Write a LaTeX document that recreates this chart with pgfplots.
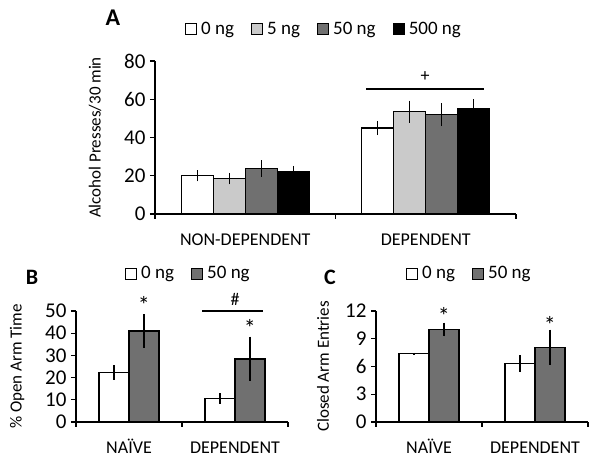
\documentclass[border=0pt]{standalone}
\usepackage{fontspec}
\setmainfont{Carlito}
\usepackage{pgfplots}
\pgfplotsset{compat=1.18}
\definecolor{lg}{RGB}{202,202,202}
\definecolor{dg}{RGB}{112,112,112}
\pgfplotsset{
  panel/.style={
    scale only axis, axis lines=left, axis line style={-, line width=1.5pt},
    ybar=0pt, ymin=0, xmin=0.5, xmax=2.5,
    xtick={0.5,1.5,2.5}, xticklabels={},
    tick align=outside, major tick length=5pt,
    tick style={line width=1.2pt, black},
    /pgf/number format/assume math mode=true,
    yticklabel style={font=\fontsize{21}{21}\selectfont, xshift=-1pt},
    extra x ticks={1,2},
    extra x tick style={major tick length=0pt,
      xticklabel style={font=\fontsize{18}{18}\selectfont, text height=13pt, text depth=3pt, yshift=-15pt}},
    ylabel style={font=\fontsize{17}{17}\selectfont, anchor=center},
    clip=false,
    legend style={draw=none, fill=none, font=\fontsize{19}{19}\selectfont,
      anchor=center, /tikz/every even column/.append style={column sep=15pt},
      legend cell align=left, inner sep=0pt},
    legend columns=-1,
    legend image code/.code={\draw[#1, line width=1pt] (0pt,-6pt) rectangle (11pt,5pt); \path (13pt,0pt);},
  },
  barst/.style={draw=black, line width=1.3pt, fill=#1,
    error bars/.cd, y dir=both, y explicit, error mark=none,
    error bar style={line width=1.3pt, black}},
}
\begin{document}
\begin{tikzpicture}[x=1pt,y=1pt]
\useasboundingbox (0,0) rectangle (600,465);
% Panel A
\begin{axis}[panel, at={(155pt,251pt)}, anchor=south west,
  width=361pt, height=153pt, bar width=32pt,
  ymax=80, ytick={0,20,40,60,80},
  extra x tick labels={NON-DEPENDENT,DEPENDENT},
  ylabel={Alcohol Presses/30 min},
  ylabel style={at={(axis description cs:-0.166,0.5)}},
  legend style={at={(axis description cs:0.468,1.21)}}]
\addplot[barst=white] coordinates {(1,20) +- (0,2.9) (2,45) +- (0,3.7)};
\addplot[barst=lg] coordinates {(1,18.5) +- (0,3) (2,53.5) +- (0,5.8)};
\addplot[barst=dg] coordinates {(1,23.8) +- (0,4.3) (2,52) +- (0,6)};
\addplot[barst=black] coordinates {(1,22.2) +- (0,3) (2,55) +- (0,4.9)};
\legend{0 ng,5 ng,50 ng,500 ng}
\draw[line width=1.2pt] (axis cs:1.669,65.4) -- (axis cs:2.323,65.4);
\node[font=\fontsize{18}{18}\selectfont] at (axis cs:1.996,72) {+};
\end{axis}
% Panel B
\begin{axis}[panel, at={(76pt,43pt)}, anchor=south west,
  width=212pt, height=111pt, bar width=30pt,
  ymax=50, ytick={0,10,20,30,40,50},
  extra x tick labels={NAÏVE,DEPENDENT},
  ylabel={\% Open Arm Time},
  ylabel style={at={(axis description cs:-0.278,0.5)}},
  legend style={at={(axis description cs:0.53,1.342)}}]
\addplot[barst=white] coordinates {(1,22.3) +- (0,3.3) (2,10.6) +- (0,2.4)};
\addplot[barst=dg] coordinates {(1,41) +- (0,7.5) (2,28.4) +- (0,10)};
\legend{0 ng,50 ng}
\draw[line width=1.2pt] (axis cs:1.689,50) -- (axis cs:2.264,50);
\node[font=\fontsize{18}{18}\selectfont] at (axis cs:2.0,55) {\#};
\node[font=\fontsize{24}{24}\selectfont] at (axis cs:1.14,52.5) {*};
\node[font=\fontsize{24}{24}\selectfont] at (axis cs:2.14,42.2) {*};
\end{axis}
% Panel C
\begin{axis}[panel, at={(376pt,43pt)}, anchor=south west,
  width=212pt, height=111pt, bar width=30pt,
  ymax=12, ytick={0,3,6,9,12},
  extra x tick labels={NAÏVE,DEPENDENT},
  ylabel={Closed Arm Entries},
  ylabel style={at={(axis description cs:-0.25,0.5)}},
  legend style={at={(axis description cs:0.44,1.342)}}]
\addplot[barst=white] coordinates {(1,7.37) +- (0,0.1) (2,6.29) +- (0,0.9)};
\addplot[barst=dg] coordinates {(1,10.0) +- (0,0.75) (2,8.08) +- (0,1.9)};
\legend{0 ng,50 ng}
\node[font=\fontsize{24}{24}\selectfont] at (axis cs:1.14,11.5) {*};
\node[font=\fontsize{24}{24}\selectfont] at (axis cs:2.14,10.45) {*};
\end{axis}
\node[font=\bfseries\fontsize{24}{24}\selectfont] at (113,447) {A};
\node[font=\bfseries\fontsize{22}{22}\selectfont] at (32,188) {B};
\node[font=\bfseries\fontsize{22}{22}\selectfont] at (330,188) {C};
\end{tikzpicture}
\end{document}
